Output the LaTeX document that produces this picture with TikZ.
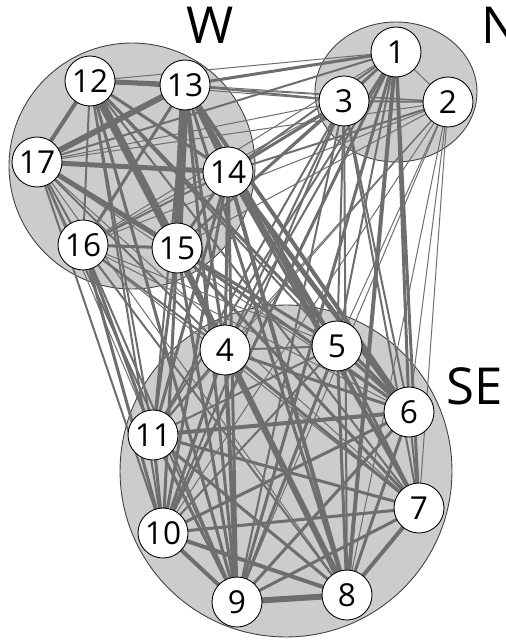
\documentclass[tikz,border=0pt]{standalone}
\usepackage{fontspec}
\setmainfont{Open Sans}
\usepackage{tikz}
\usetikzlibrary{calc}
\definecolor{edgegray}{HTML}{6E6E6E}
\definecolor{groupgray}{HTML}{CCCCCC}
\pgfdeclarelayer{groups}
\pgfdeclarelayer{edges}
\pgfsetlayers{groups,edges,main}

\begin{document}
\begin{tikzpicture}[x=0.02cm, y=-0.02cm,
        vertex/.style={circle, draw=black, line width=0.5pt, fill=white,
            minimum size=1cm, inner sep=0pt, font=\fontsize{18}{18}\selectfont},
        group/.style={draw=black!75, line width=0.5pt, fill=groupgray},
        grouplabel/.style={inner sep=0pt, font=\fontsize{29}{29}\selectfont},
        link/.style={draw=edgegray, line cap=butt}]
        \def\px{0.57}

        \useasboundingbox (0,0) rectangle (506,641);

        % Nodes
        \foreach \n/\x/\y in {1/396/52, 2/448/102, 3/344/101,
            4/225/350, 5/337/346, 6/409/412, 7/419/508, 8/347/595,
            9/237/602, 10/163/533, 11/153/435,
            12/90/81, 13/185/85, 14/228/172, 15/177/248, 16/83/245, 17/37/162}
            \node[vertex] (n\n) at (\x,\y) {\n};

        % Groups
        \begin{pgfonlayer}{groups}
            \draw[group] (132,166) circle[radius=2.46cm];
            \draw[group] (396,92) ellipse[x radius=1.62cm, y radius=1.4cm];
            \draw[group] (286,471) circle[radius=3.32cm];
        \end{pgfonlayer}
        \node[grouplabel] (labW) at (210,25) {W};
        \node[grouplabel, anchor=west] (labN) at (481,25) {N};
        \node[grouplabel, anchor=east] (labSE) at (503,386) {SE};

        % Edges (width in px)
        \begin{pgfonlayer}{edges}
            \foreach \a/\b/\w in {
                12/13/5, 12/14/3, 12/15/8, 12/16/2, 12/17/4, 13/14/3, 13/15/9,
                13/16/3, 13/17/6, 14/15/3, 14/16/2, 14/17/5, 15/16/3, 15/17/5, 16/17/2,
                1/2/1, 1/3/2, 2/3/2,
                4/5/2, 4/6/3, 4/7/3, 4/8/6, 4/9/4, 4/10/3, 4/11/2,
                5/6/3, 5/7/3, 5/8/3, 5/9/3, 5/10/2, 5/11/2,
                6/7/2, 6/8/3, 6/9/3, 6/10/3, 6/11/4,
                7/8/4, 7/9/3, 7/10/3, 7/11/3,
                8/9/6, 8/10/4, 8/11/3, 9/10/4, 9/11/3, 10/11/3,
                1/12/1, 1/13/3, 1/14/2, 1/15/2, 1/16/1, 1/17/2,
                2/12/1, 2/13/1, 2/14/2, 2/15/1, 2/16/1, 2/17/1,
                3/12/1, 3/13/2, 3/14/3, 3/15/2, 3/16/1, 3/17/1,
                12/4/2, 12/5/2, 12/6/3, 12/7/2, 12/8/3, 12/9/3, 12/10/2, 12/11/2,
                13/4/3, 13/5/3, 13/6/4, 13/7/3, 13/8/3, 13/9/3, 13/10/2, 13/11/2,
                14/4/3, 14/5/4, 14/6/5, 14/7/3, 14/8/4, 14/9/3, 14/10/3, 14/11/3,
                15/4/3, 15/5/3, 15/6/3, 15/7/3, 15/8/4, 15/9/3, 15/10/3, 15/11/3,
                16/4/2, 16/5/1, 16/6/1, 16/7/1, 16/8/2, 16/9/2, 16/10/3, 16/11/3,
                17/4/2, 17/5/1, 17/6/1, 17/7/1, 17/8/1, 17/9/2, 17/10/2, 17/11/1,
                1/4/2, 1/5/2, 1/6/3, 1/7/3, 1/8/4, 1/9/3, 1/10/3, 1/11/2,
                2/4/1, 2/5/1, 2/6/1, 2/7/1, 2/8/1, 2/9/1, 2/10/1, 2/11/1,
                3/4/2, 3/5/2, 3/6/2, 3/7/2, 3/8/2, 3/9/2, 3/10/2, 3/11/2}
                \draw[link, line width=\w*\px pt] (n\a.center) -- (n\b.center);
        \end{pgfonlayer}
    \end{tikzpicture}
\end{document}
